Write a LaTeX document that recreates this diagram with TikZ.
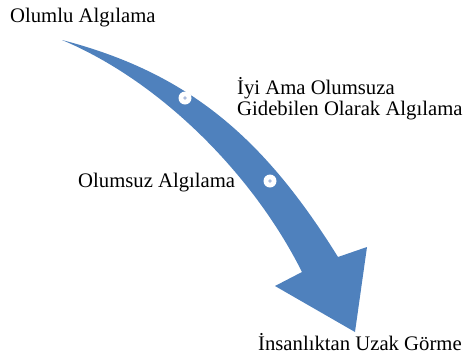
\documentclass[tikz,border=0pt]{standalone}
\usepackage{fontspec}
\setmainfont{Liberation Serif}
\definecolor{arrowblue}{RGB}{79,129,189}
\definecolor{dotblue}{RGB}{172,188,220}
\begin{document}
\begin{tikzpicture}[x=1pt,y=-1pt,
  lbl/.style={anchor=base west, inner sep=0pt, font=\fontsize{20.7}{20.5}\selectfont},
  ring/.style={circle, fill=white, minimum size=13pt, inner sep=0pt},
  dotc/.style={circle, fill=dotblue, minimum size=3.6pt, inner sep=0pt}]
\useasboundingbox (0,0) rectangle (467,357);
\fill[arrowblue] (62,40) .. controls (189,73) and (264,138) .. (338,257)
  -- (367,247) -- (355,332) -- (275,286) -- (302,272)
  .. controls (254,176) and (162,82) .. (62,40) -- cycle;
\node[ring] (c1) at (185,98) {};
\node[dotc] (d1) at (c1) {};
\node[ring] (c2) at (270,181) {};
\node[dotc] (d2) at (c2) {};
\node[lbl] (t1) at (10,22) {Olumlu Algılama};
\node[lbl, align=left] (t2) at (237,115) {İyi Ama Olumsuza\\Gidebilen Olarak Algılama};
\node[lbl] (t3) at (78,187) {Olumsuz Algılama};
\node[lbl] (t4) at (258,350) {İnsanlıktan Uzak Görme};
\end{tikzpicture}
\end{document}
